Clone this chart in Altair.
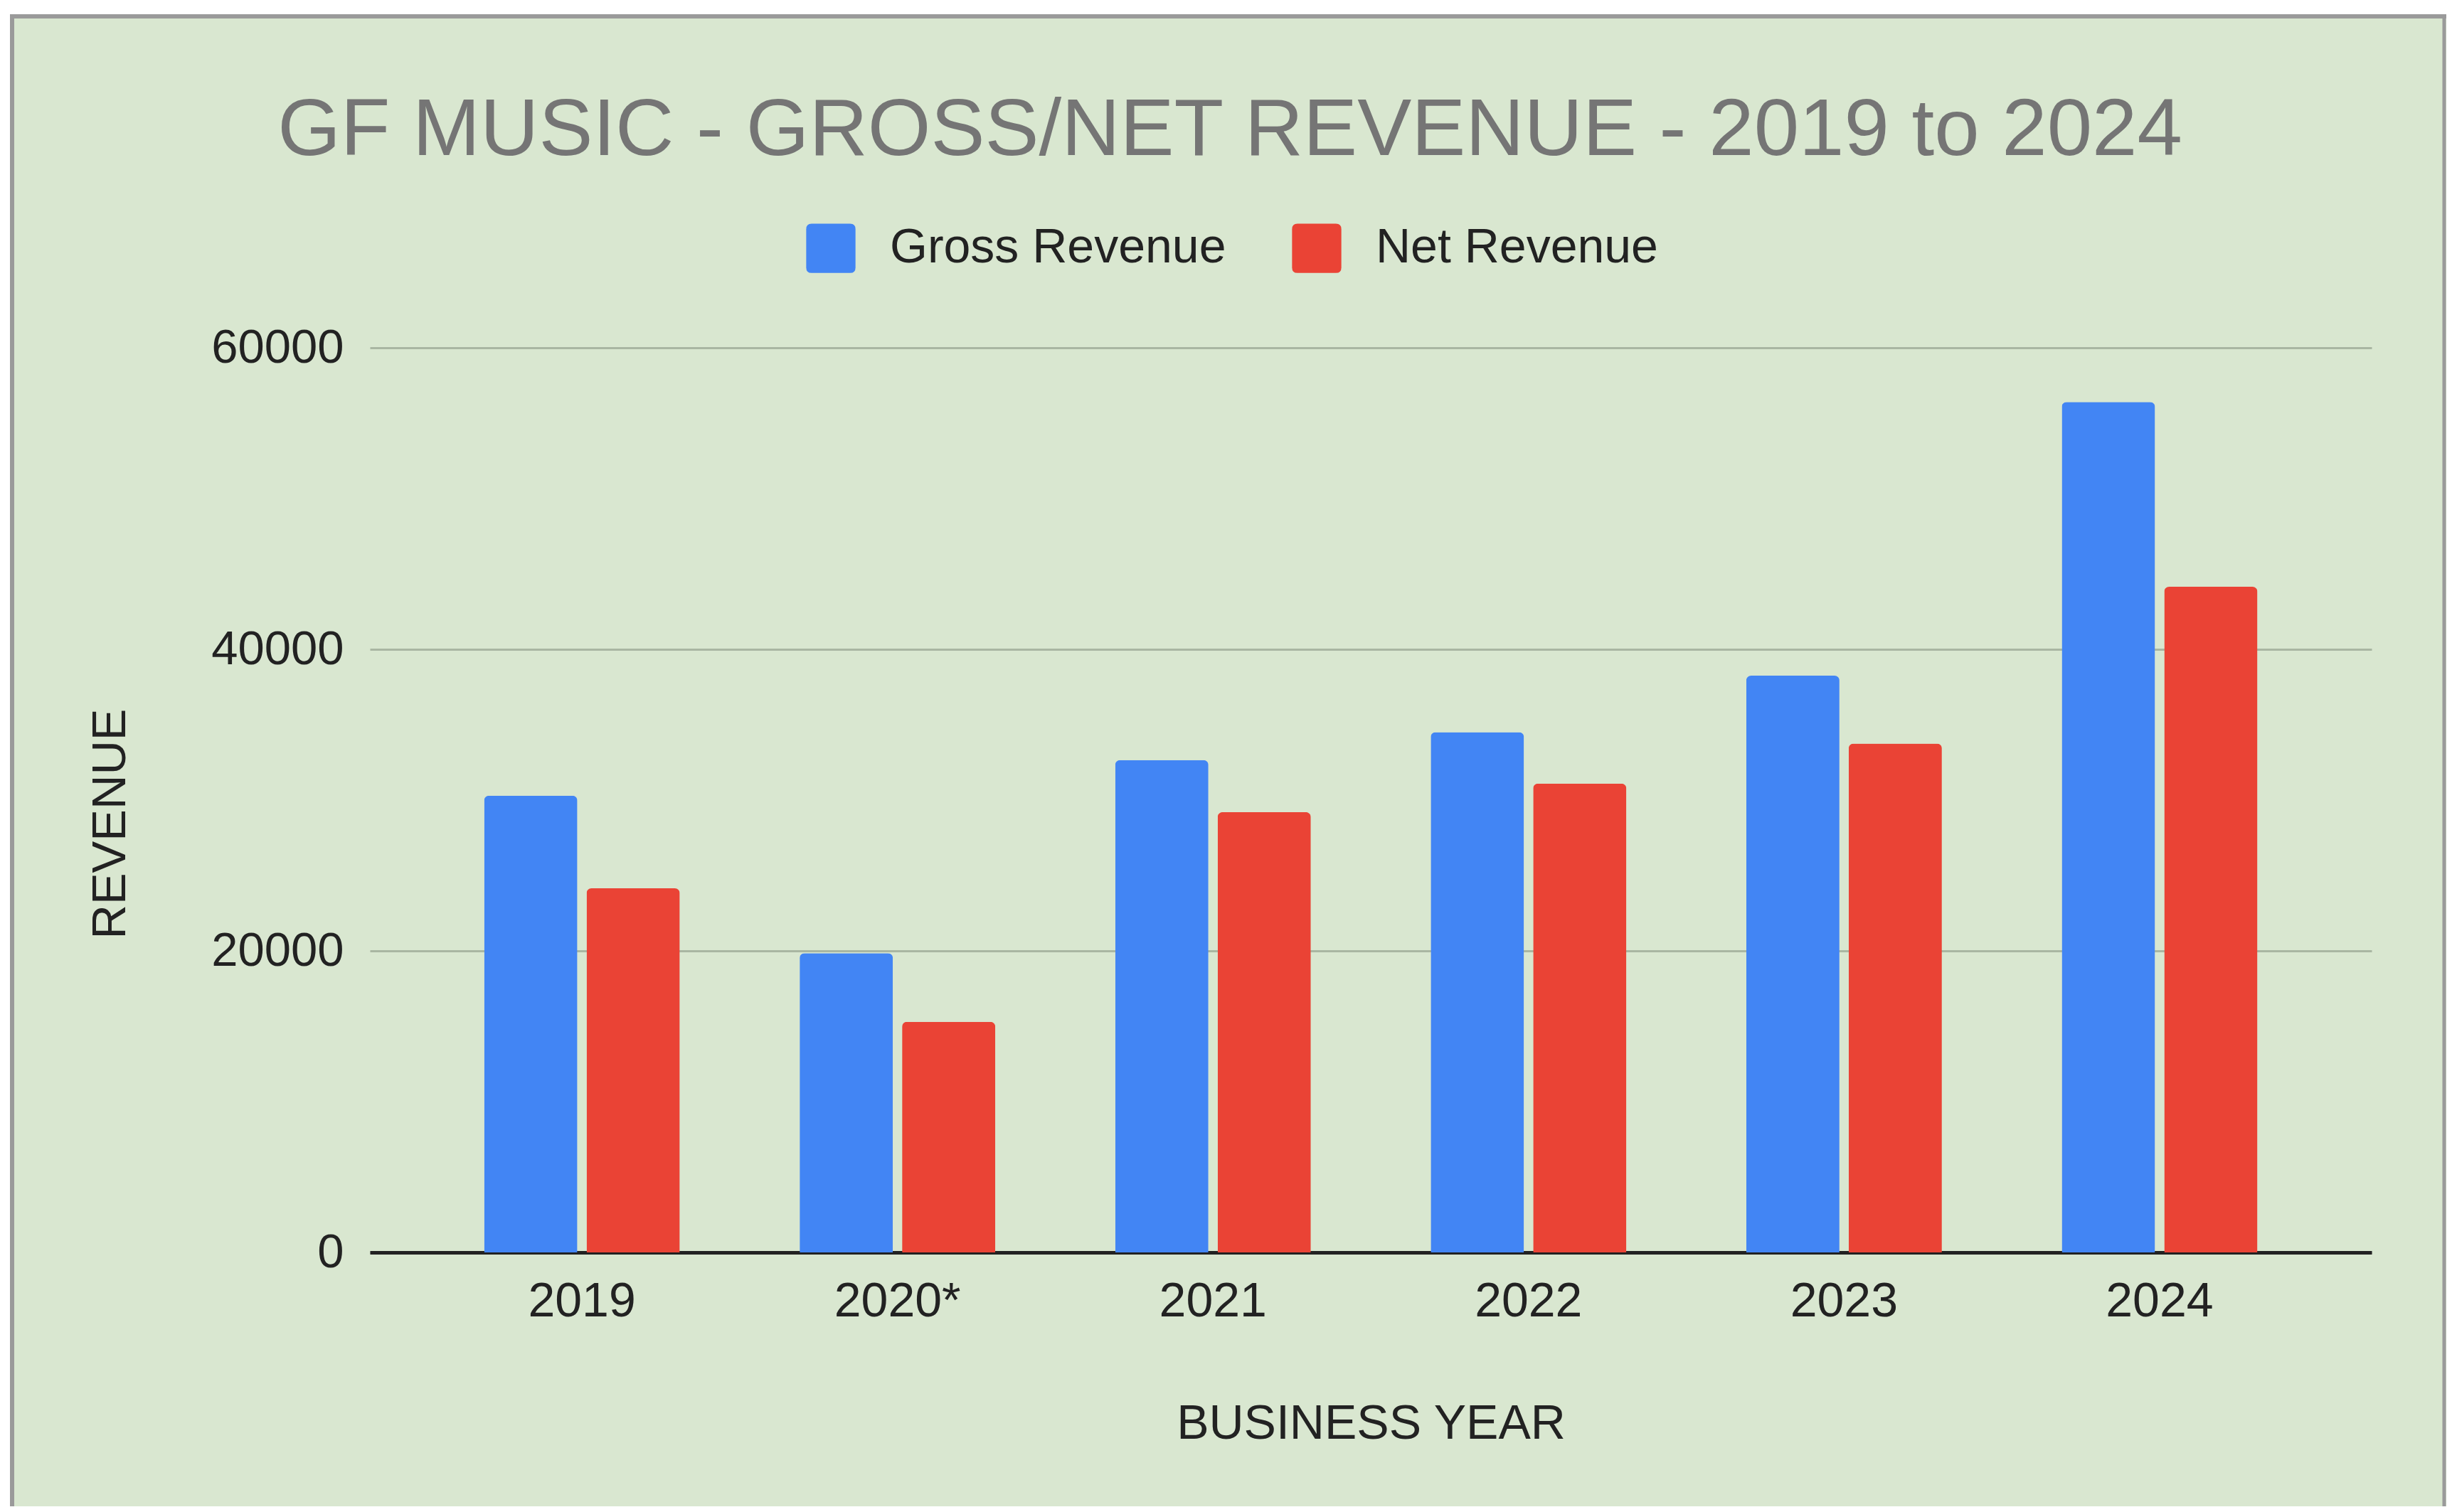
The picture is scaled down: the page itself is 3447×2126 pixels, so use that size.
import altair as alt
import pandas as pd

years = ["2019", "2020*", "2021", "2022", "2023", "2024"]
gross = [30300, 19850, 32650, 34500, 38250, 56400]
net = [24150, 15300, 29200, 31100, 33750, 44150]
series = ["Gross Revenue", "Net Revenue"]
colors = ["#4285f4", "#ea4335"]

rows = []
for i, y in enumerate(years):
    rows.append({"year": y, "series": series[0], "value": gross[i]})
    rows.append({"year": y, "series": series[1], "value": net[i]})
df = pd.DataFrame(rows)

FONT = "Liberation Sans"
BG = "#d9e7d0"
W, H = 2814, 1272

rounded = ("M-1,-0.78 Q-1,-1 -0.78,-1 L0.78,-1 Q1,-1 1,-0.78 L1,0.78 "
           "Q1,1 0.78,1 L-0.78,1 Q-1,1 -1,0.78 Z")

bars = alt.Chart(df).mark_bar(cornerRadiusTopLeft=7, cornerRadiusTopRight=7).encode(
    x=alt.X("year:N", sort=years,
            scale=alt.Scale(paddingInner=0.38, paddingOuter=0.362),
            axis=alt.Axis(title="BUSINESS YEAR", labelAngle=0, ticks=False, tickSize=0,
                          labelPadding=89, labelBaseline="alphabetic",
                          labelFontSize=68, labelColor="#222222", labelFont=FONT,
                          labelLimit=0,
                          titleFontSize=68, titleFont=FONT, titleColor="#222222",
                          titleFontWeight="normal", titleBaseline="alphabetic",
                          titleY=261, domainColor="#222222", domainWidth=5,
                          grid=False)),
    xOffset=alt.XOffset("series:N", sort=series,
                        scale=alt.Scale(paddingInner=0.09)),
    y=alt.Y("value:Q",
            scale=alt.Scale(domain=[0, 60000], nice=False),
            axis=alt.Axis(title="REVENUE", values=[0, 20000, 40000, 60000],
                          format="d", domain=False, ticks=False, tickSize=0,
                          labelPadding=37, labelFontSize=67, labelFont=FONT,
                          labelColor="#222222", labelLimit=0,
                          titleFontSize=67, titleFont=FONT, titleColor="#222222",
                          titleFontWeight="normal", titleX=-365, titleY=669,
                          titleBaseline="middle", titleAlign="center",
                          gridColor="#a9b6a2", gridWidth=3)),
    color=alt.Color("series:N", sort=series,
                    scale=alt.Scale(domain=series, range=colors),
                    legend=alt.Legend(title=None, orient="none", direction="horizontal",
                                      legendX=613, legendY=-175, padding=0,
                                      symbolType=rounded, symbolSize=4800,
                                      symbolStrokeWidth=0, symbolOpacity=1,
                                      labelFontSize=68, labelFont=FONT,
                                      labelColor="#222222", labelOffset=48,
                                      columnPadding=92, labelLimit=1000)),
)

frame_data = alt.Data(values=[{"k": 1}])
white_top = alt.Chart(frame_data).mark_rule(color="white", strokeWidth=12).encode(
    x=alt.value(-520), x2=alt.value(2930), y=alt.value(-475))
white_left = alt.Chart(frame_data).mark_rule(color="white", strokeWidth=6).encode(
    x=alt.value(-509), y=alt.value(-490), y2=alt.value(1700))
border_top = alt.Chart(frame_data).mark_rule(color="#9a9a9a", strokeWidth=6).encode(
    x=alt.value(-506), x2=alt.value(2919), y=alt.value(-466))
border_left = alt.Chart(frame_data).mark_rule(color="#9a9a9a", strokeWidth=6).encode(
    x=alt.value(-503), y=alt.value(-469), y2=alt.value(1700))
border_right = alt.Chart(frame_data).mark_rule(color="#9a9a9a", strokeWidth=5).encode(
    x=alt.value(2916), y=alt.value(-469), y2=alt.value(1700))

chart = alt.layer(bars, white_top, white_left, border_top, border_left, border_right).properties(
    width=W, height=H,
    title=alt.TitleParams("GF MUSIC - GROSS/NET REVENUE - 2019 to 2024",
                          fontSize=114, font=FONT, color="#757575",
                          fontWeight="normal", anchor="middle", dx=-198, dy=336,
                          baseline="alphabetic", offset=0),
    autosize=alt.AutoSizeParams(type="none"),
    padding={"left": 512, "top": 481, "right": 105, "bottom": 357},
).configure(background=BG).configure_view(stroke=None)

chart.save("out.html", embed_options={"renderer": "svg", "actions": False})
